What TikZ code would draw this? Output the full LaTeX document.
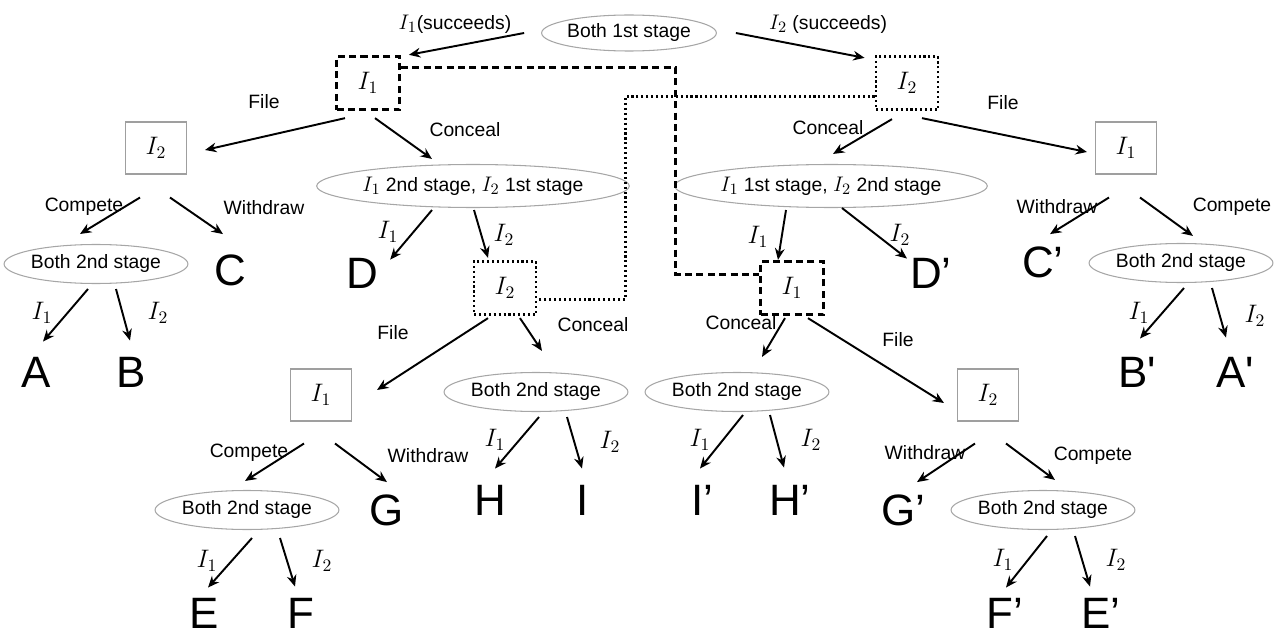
\documentclass[tikz,border=0pt]{standalone}
\usepackage{fontspec}
\setmainfont{Liberation Sans}
\usepackage{amsmath}
\usetikzlibrary{shapes.geometric}
\usetikzlibrary{arrows.meta}
\usetikzlibrary{calc}

\newcommand{\lblfont}{\fontsize{11}{13}\selectfont}
\newcommand{\mI}[1]{{\fontsize{13}{14}\selectfont$I_{#1}$}}
\tikzset{
    box/.style={draw=gray!75, line width=0.6pt, minimum width=1.22cm, minimum height=1.04cm, inner sep=0pt, font=\fontsize{14}{16}\selectfont},
    dashbox/.style={draw, line width=1.6pt, dash pattern=on 4pt off 2.5pt, minimum width=1.26cm, minimum height=1.07cm, inner sep=0pt, font=\fontsize{14}{16}\selectfont},
    dotbox/.style={draw, line width=1.6pt, dash pattern=on 1.2pt off 1.6pt, minimum width=1.24cm, minimum height=1.07cm, inner sep=0pt, font=\fontsize{14}{16}\selectfont},
    dashln/.style={line width=1.6pt, dash pattern=on 4pt off 2.5pt},
    dotln/.style={line width=1.6pt, dash pattern=on 1.2pt off 1.6pt},
    stagenode/.style={ellipse, draw=gray!70, line width=0.6pt, inner sep=0pt, font=\lblfont},
    smallst/.style={stagenode, minimum width=3.5cm, minimum height=0.78cm},
    widest/.style={stagenode, minimum width=5.74cm, minimum height=0.86cm},
    leaf/.style={inner sep=0pt, font=\fontsize{25}{27}\selectfont},
    lab/.style={inner sep=0pt, font=\lblfont},
    mlab/.style={inner sep=0pt, font=\fontsize{14}{16}\selectfont},
    arr/.style={-{Stealth[length=6.5pt,width=5.5pt]}, line width=1.1pt},
}

\begin{document}
\begin{tikzpicture}[x=0.02cm, y=-0.02cm]
    \useasboundingbox (0,0) rectangle (1279,635);
    %states
    \node[stagenode, minimum width=3.4cm, minimum height=0.72cm] (root) at (629,33) {Both 1st stage};
    \node[dashbox] (i1) at (368,83) {$I_1$};
    \node[dotbox] (i2) at (907,83) {$I_2$};
    \node[box] (a2) at (156,148) {$I_2$};
    \node[widest] (e12) at (473,186) {\mI{1} 2nd stage, \mI{2} 1st stage};
    \node[widest] (e21) at (831,186) {\mI{1} 1st stage, \mI{2} 2nd stage};
    \node[box] (b1) at (1126,148) {$I_1$};
    \node[smallst] (eAB) at (96,264) {Both 2nd stage};
    \node[smallst] (eBA) at (1181,263) {Both 2nd stage};
    \node[dotbox] (j2) at (505,288) {$I_2$};
    \node[dashbox] (j1) at (792,288) {$I_1$};
    \node[box] (c1) at (321,395) {$I_1$};
    \node[smallst] (eHI) at (536,392) {Both 2nd stage};
    \node[smallst] (eIH) at (737,392) {Both 2nd stage};
    \node[box] (d2) at (988,395) {$I_2$};
    \node[smallst] (eEF) at (247,510) {Both 2nd stage};
    \node[smallst] (eFE) at (1043,510) {Both 2nd stage};
    %outcomes
    \node[leaf] (C) at (230,270) {C};
    \node[leaf] (D) at (362,273) {D};
    \node[leaf] (Dp) at (931,273) {D’};
    \node[leaf] (Cp) at (1043,262) {C’};
    \node[leaf] (A) at (36,372) {A};
    \node[leaf] (B) at (131,372) {B};
    \node[leaf] (Bp) at (1137,372) {B\textquotesingle};
    \node[leaf] (Ap) at (1235,372) {A\textquotesingle};
    \node[leaf] (H) at (490,500) {H};
    \node[leaf] (I) at (583,500) {I};
    \node[leaf] (Ip) at (702,500) {I’};
    \node[leaf] (Hp) at (790,500) {H’};
    \node[leaf] (G) at (387,510) {G};
    \node[leaf] (Gp) at (903,510) {G’};
    \node[leaf] (E) at (204,613) {E};
    \node[leaf] (F) at (301,613) {F};
    \node[leaf] (Fp) at (1005,613) {F’};
    \node[leaf] (Ep) at (1101,613) {E’};
    %information sets
    \draw[dashln] ($(i1.north east)+(0,13)$) -- ++(275,0) |- ($(j1.north west)+(0,15)$);
    \draw[dotln] ($(i2.south west)+(0,-15)$) -- ++(-249,0) |- ($(j2.south east)+(0,-17)$);
    %top
    \draw[arr] ($(root.west)+(-17,0)$) -- ($(i1.north east)+(8,0)$);
    \draw[arr] ($(root.east)+(19,0)$) -- ($(i2.north west)+(-10,3)$);
    \draw[arr] ($(i1.south)+(-23,7)$) -- ($(a2.east)+(18,2)$);
    \draw[arr] ($(i1.south)+(7,7)$) -- ($(e12.north)+(-41,-5)$);
    \draw[arr] ($(i2.south)+(-15,8)$) -- ($(e21.north)+(2,-10)$);
    \draw[arr] ($(i2.south)+(15,7)$) -- ($(b1.west)+(-8,4)$);
    %left part
    \draw[arr] ($(a2.south)+(-16,23)$) -- ($(eAB.north)+(-16,-10)$);
    \draw[arr] ($(a2.south)+(14,23)$) -- ($(C.north)+(-7,-20)$);
    \draw[arr] ($(eAB.south)+(-8,5)$) -- ($(A.north)+(7,-15)$);
    \draw[arr] ($(eAB.south)+(20,5)$) -- ($(B.north)+(-1,-16)$);
    \draw[arr] ($(e12.south)+(-41,2)$) -- ($(D.north east)+(12,2)$);
    \draw[arr] ($(e12.south)+(1,2)$) -- ($(j2.north)+(-17,-2)$);
    \draw[arr] ($(j2.south)+(-17,2)$) -- ($(c1.east)+(25,-5)$);
    \draw[arr] ($(j2.south)+(15,2)$) -- ($(eHI.north)+(6,-21)$);
    \draw[arr] ($(c1.south)+(-17,22)$) -- ($(eEF.north)+(-2,-9)$);
    \draw[arr] ($(c1.south)+(14,22)$) -- ($(G.north)+(0,-12)$);
    \draw[arr] ($(eEF.south)+(5,8)$) -- ($(E.north)+(4,-10)$);
    \draw[arr] ($(eEF.south)+(33,8)$) -- ($(F.north)+(-6,-11)$);
    \draw[arr] ($(eHI.south)+(3,5)$) -- ($(H.north)+(5,-16)$);
    \draw[arr] ($(eHI.south)+(31,5)$) -- ($(I.north)+(-1,-16)$);
    %right part
    \draw[arr] ($(e21.south)+(-45,2)$) -- ($(j1.north)+(-14,0)$);
    \draw[arr] ($(e21.south)+(11,0)$) -- ($(Dp.north)+(-24,1)$);
    \draw[arr] ($(j1.south)+(-7,2)$) -- ($(eIH.north)+(25,-15)$);
    \draw[arr] ($(j1.south)+(16,2)$) -- ($(d2.west)+(-13,8)$);
    \draw[arr] ($(eIH.south)+(6,3)$) -- ($(Ip.north)+(-2,-16)$);
    \draw[arr] ($(eIH.south)+(33,3)$) -- ($(Hp.north)+(-6,-17)$);
    \draw[arr] ($(d2.south)+(-13,22)$) -- ($(Gp.north)+(14,-12)$);
    \draw[arr] ($(d2.south)+(18,22)$) -- ($(eFE.north)+(12,-10)$);
    \draw[arr] ($(eFE.south)+(4,6)$) -- ($(Fp.north)+(1,-10)$);
    \draw[arr] ($(eFE.south)+(32,6)$) -- ($(Ep.north)+(-11,-11)$);
    \draw[arr] ($(b1.south)+(-17,23)$) -- ($(Cp.north)+(7,-12)$);
    \draw[arr] ($(b1.south)+(14,23)$) -- ($(eBA.north)+(12,-7)$);
    \draw[arr] ($(eBA.south)+(3,5)$) -- ($(Bp.north)+(3,-18)$);
    \draw[arr] ($(eBA.south)+(31,5)$) -- ($(Ap.north)+(-9,-19)$);
    %labels
    \node[lab] (s1) at (455,24) {\mI{1}(succeeds)};
    \node[lab] (s2) at (828,24) {\mI{2} (succeeds)};
    \node[lab] (f1) at (264,102) {File};
    \node[lab] (k1) at (465,130) {Conceal};
    \node[lab] (k2) at (828,128) {Conceal};
    \node[lab] (f2) at (1003,103) {File};
    \node[lab] (cp1) at (84,207) {Compete};
    \node[lab] (w1) at (264,208) {Withdraw};
    \node[mlab] (m1) at (42,313) {$I_1$};
    \node[mlab] (m2) at (158,313) {$I_2$};
    \node[mlab] (m3) at (388,232) {$I_1$};
    \node[mlab] (m4) at (504,235) {$I_2$};
    \node[lab] (f3) at (393,333) {File};
    \node[lab] (k3) at (593,325) {Conceal};
    \node[lab] (cp2) at (249,453) {Compete};
    \node[lab] (w2) at (428,456) {Withdraw};
    \node[mlab] (m5) at (207,561) {$I_1$};
    \node[mlab] (m6) at (322,561) {$I_2$};
    \node[mlab] (m7) at (495,440) {$I_1$};
    \node[mlab] (m8) at (610,442) {$I_2$};
    \node[mlab] (m9) at (758,237) {$I_1$};
    \node[mlab] (m10) at (900,235) {$I_2$};
    \node[lab] (k4) at (741,323) {Conceal};
    \node[lab] (f4) at (898,340) {File};
    \node[mlab] (m11) at (700,440) {$I_1$};
    \node[mlab] (m12) at (811,440) {$I_2$};
    \node[lab] (w3) at (925,453) {Withdraw};
    \node[lab] (cp3) at (1093,456) {Compete};
    \node[mlab] (m13) at (1003,560) {$I_1$};
    \node[mlab] (m14) at (1116,560) {$I_2$};
    \node[lab] (w4) at (1057,207) {Withdraw};
    \node[lab] (cp4) at (1232,207) {Compete};
    \node[mlab] (m15) at (1139,313) {$I_1$};
    \node[mlab] (m16) at (1255,316) {$I_2$};
\end{tikzpicture}
\end{document}
